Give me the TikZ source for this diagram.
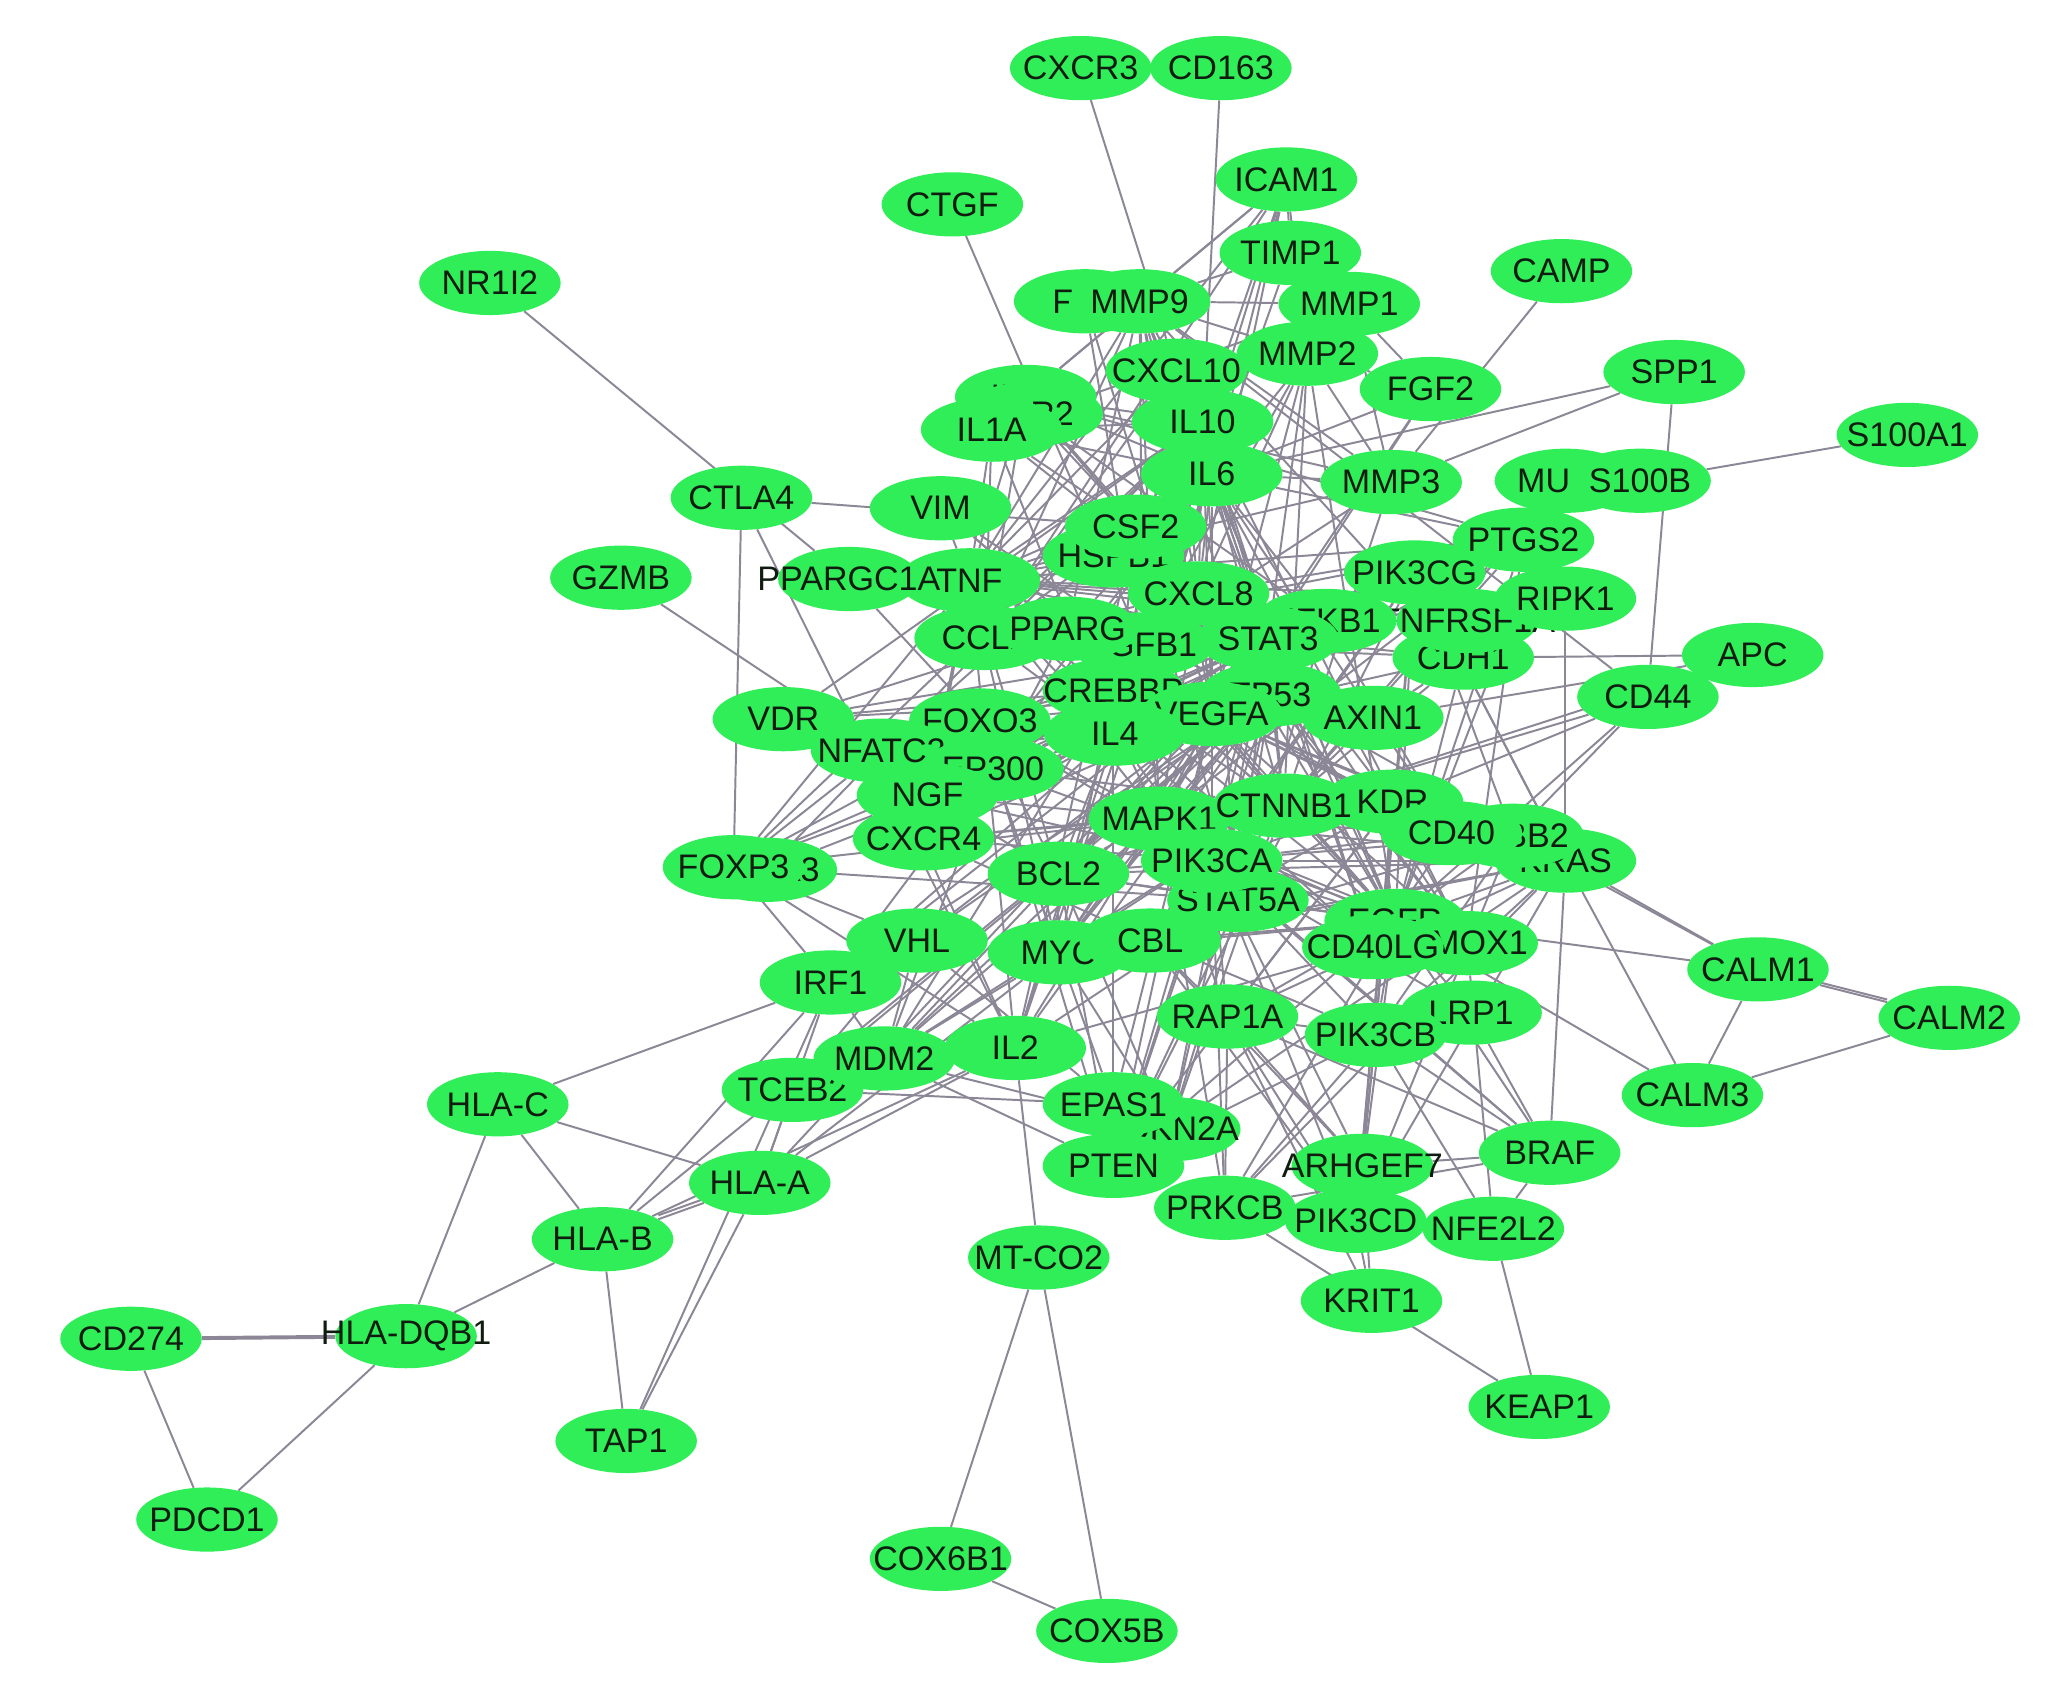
\documentclass[tikz,border=0pt]{standalone}
\usepackage{fontspec}
\setmainfont{Liberation Sans}
\usetikzlibrary{shapes.geometric,backgrounds}
\definecolor{gfill}{RGB}{48,238,88}
\definecolor{ecol}{RGB}{140,135,150}
\definecolor{tcol}{RGB}{15,28,15}
\tikzset{
  gn/.style={ellipse, fill=gfill, minimum width=108pt, minimum height=49pt, inner sep=0pt},
  lbl/.style={text=tcol, font=\fontsize{26}{26}\selectfont, inner sep=0pt},
  edge/.style={draw=ecol, line width=1.5pt},
  thickedge/.style={draw=ecol, line width=3pt}
}
\newcommand\gene[3]{\node[gn, label={[lbl]center:#3}] (#1) at (#2) {};}
\begin{document}
\begin{tikzpicture}[x=1pt,y=-1pt]
\useasboundingbox (0,0) rectangle (1568,1298);
% ---- nodes (draw order matters for occlusion) ----
\gene{CXCR3}{825,52}{CXCR3}
\gene{CD163}{932,52}{CD163}
\gene{ICAM1}{982,137}{ICAM1}
\gene{CTGF}{727,156}{CTGF}
\gene{TIMP1}{985,193}{TIMP1}
\gene{CAMP}{1192,207}{CAMP}
\gene{NR1I2}{374,216}{NR1I2}
\gene{FN1}{828,230}{FN1}
\gene{MMP9}{870,230}{MMP9}
\gene{MMP1}{1030,232}{MMP1}
\gene{CXCL10}{898,283}{CXCL10}
\gene{MMP2}{998,270}{MMP2}
\gene{FGF2}{1092,297}{FGF2}
\gene{SPP1}{1278,284}{SPP1}
\gene{S100A1}{1456,332}{S100A1}
\gene{IL1B}{783,303}{IL1B}
\gene{TLR2}{788,316}{TLR2}
\gene{IL1A}{757,328}{IL1A}
\gene{IL10}{918,322}{IL10}
\gene{IL6}{925,362}{IL6}
\gene{MMP3}{1062,368}{MMP3}
\gene{MUC1}{1195,367}{MUC1}
\gene{S100B}{1252,367}{S100B}
\gene{VIM}{718,388}{VIM}
\gene{CTLA4}{566,380}{CTLA4}
\gene{HSPB1}{850,424}{HSPB1}
\gene{CSF2}{867,402}{CSF2}
\gene{CDH1}{1117,502}{CDH1}
\gene{TNFRSF1A}{1120,474}{TNFRSF1A}
\gene{PTGS2}{1163,412}{PTGS2}
\gene{PIK3CG}{1080,437}{PIK3CG}
\gene{GZMB}{474,441}{GZMB}
\gene{TNF}{740,443}{TNF}
\gene{PPARGC1A}{648,442}{PPARGC1A}
\gene{CXCL8}{915,453}{CXCL8}
\gene{CCL2}{752,487}{CCL2}
\gene{TGFB1}{872,492}{TGFB1}
\gene{PPARG}{815,480}{PPARG}
\gene{NFKB1}{1012,474}{NFKB1}
\gene{STAT3}{968,488}{STAT3}
\gene{RIPK1}{1195,457}{RIPK1}
\gene{APC}{1338,500}{APC}
\gene{CD44}{1258,532}{CD44}
\gene{CREBBP}{850,527}{CREBBP}
\gene{TP53}{970,530}{TP53}
\gene{VEGFA}{925,545}{VEGFA}
\gene{AXIN1}{1048,548}{AXIN1}
\gene{FOXO3}{748,550}{FOXO3}
\gene{VDR}{598,549}{VDR}
\gene{NFATC2}{673,573}{NFATC2}
\gene{EP300}{758,587}{EP300}
\gene{IL4}{851,560}{IL4}
\gene{NGF}{708,607}{NGF}
\gene{CXCR4}{705,640}{CXCR4}
\gene{GATA3}{585,664}{GATA3}
\gene{FOXP3}{560,662}{FOXP3}
\gene{MAPK1}{885,625}{MAPK1}
\gene{KDR}{1063,612}{KDR}
\gene{CTNNB1}{980,615}{CTNNB1}
\gene{KRAS}{1195,657}{KRAS}
\gene{ERBB2}{1155,638}{ERBB2}
\gene{CD40}{1108,636}{CD40}
\gene{BCL2}{808,667}{BCL2}
\gene{STAT5A}{945,687}{STAT5A}
\gene{PIK3CA}{925,657}{PIK3CA}
\gene{EGFR}{1065,703}{EGFR}
\gene{HMOX1}{1120,720}{HMOX1}
\gene{CD40LG}{1048,723}{CD40LG}
\gene{VHL}{700,718}{VHL}
\gene{MYC}{808,727}{MYC}
\gene{CBL}{878,718}{CBL}
\gene{IRF1}{634,750}{IRF1}
\gene{RAP1A}{937,776}{RAP1A}
\gene{LRP1}{1123,773}{LRP1}
\gene{PIK3CB}{1050,790}{PIK3CB}
\gene{TCEB2}{605,832}{TCEB2}
\gene{MDM2}{675,808}{MDM2}
\gene{IL2}{775,800}{IL2}
\gene{CDKN2A}{893,862}{CDKN2A}
\gene{EPAS1}{850,843}{EPAS1}
\gene{HLA-C}{380,843}{HLA-C}
\gene{PTEN}{850,890}{PTEN}
\gene{HLA-A}{580,903}{HLA-A}
\gene{ARHGEF7}{1040,890}{ARHGEF7}
\gene{BRAF}{1183,880}{BRAF}
\gene{PRKCB}{935,922}{PRKCB}
\gene{PIK3CD}{1035,932}{PIK3CD}
\gene{NFE2L2}{1140,938}{NFE2L2}
\gene{HLA-B}{460,946}{HLA-B}
\gene{MT-CO2}{793,960}{MT-CO2}
\gene{KRIT1}{1047,993}{KRIT1}
\gene{CD274}{100,1022}{CD274}
\gene{HLA-DQB1}{310,1020}{HLA-DQB1}
\gene{KEAP1}{1175,1074}{KEAP1}
\gene{TAP1}{478,1100}{TAP1}
\gene{PDCD1}{158,1160}{PDCD1}
\gene{COX6B1}{718,1190}{COX6B1}
\gene{COX5B}{845,1245}{COX5B}
\gene{CALM1}{1342,740}{CALM1}
\gene{CALM2}{1488,777}{CALM2}
\gene{CALM3}{1292,836}{CALM3}
% ---- edges (behind the nodes) ----
\begin{pgfonlayer}{background}
\fill[white] (0,0) rectangle (1568,1298);
\foreach \a/\b in {%
 CXCR3/CXCL10, CD163/IL10, CTGF/TGFB1, NR1I2/PPARGC1A, CTLA4/CSF2, CTLA4/FOXP3,
 GZMB/NFATC2, PPARGC1A/FOXO3, PPARGC1A/PPARG, CAMP/MMP3, SPP1/CD44, SPP1/MMP3,
 S100B/S100A1, MUC1/EGFR, MUC1/CTNNB1,
 ICAM1/TIMP1, ICAM1/MMP9, ICAM1/IL6, ICAM1/TNF, ICAM1/CXCL8, ICAM1/MMP2,
 TIMP1/MMP9, TIMP1/MMP1, TIMP1/MMP2, MMP1/MMP2, MMP1/MMP3, MMP1/MMP9, MMP1/FGF2,
 MMP2/MMP9, MMP2/MMP3, MMP2/FGF2, MMP9/MMP3, MMP9/CXCL10, FN1/MMP9, FN1/TGFB1, FN1/VEGFA,
 FGF2/VEGFA, FGF2/IL6, FGF2/STAT3,
 IL6/TNF, IL6/IL10, IL6/IL1A, IL6/IL1B, IL6/CXCL8, IL6/CCL2, IL6/CSF2, IL6/IL4, IL6/IL2,
 IL6/STAT3, IL6/VEGFA, IL6/TP53, IL6/MMP9, IL6/MMP3, IL6/MMP1, IL6/TIMP1, IL6/CXCL10,
 IL6/PTGS2, IL6/TGFB1, IL6/NFKB1, IL6/HMOX1, IL6/BCL2, IL6/MYC, IL6/EGFR, IL6/SPP1,
 TNF/IL10, TNF/IL1A, TNF/IL1B, TNF/CXCL8, TNF/CCL2, TNF/CSF2, TNF/IL4, TNF/IL2,
 TNF/MMP9, TNF/MMP3, TNF/NFKB1, TNF/TGFB1, TNF/VEGFA, TNF/PTGS2, TNF/CXCL10,
 TNF/RIPK1, TNF/TNFRSF1A, TNF/PPARG, TNF/VIM, TNF/HSPB1,
 CXCL8/IL10, CXCL8/IL1A, CXCL8/IL1B, CXCL8/CCL2, CXCL8/CSF2, CXCL8/MMP9, CXCL8/MMP2,
 CXCL8/VEGFA, CXCL8/STAT3, CXCL8/NFKB1, CXCL8/PTGS2, CXCL8/CXCL10, CXCL8/CXCR4, CXCL8/TLR2,
 IL10/IL1A, IL10/CCL2, IL10/CSF2, IL10/IL4, IL10/IL2, IL10/STAT3, IL10/CXCL10, IL10/TGFB1,
 IL10/FOXP3, IL10/HMOX1, IL1A/IL1B, IL1B/TLR2, TLR2/NFKB1, IL1B/MMP3, IL1A/MMP1,
 STAT3/TP53, STAT3/VEGFA, STAT3/EGFR, STAT3/MYC, STAT3/BCL2, STAT3/CTNNB1, STAT3/MAPK1,
 STAT3/PIK3CA, STAT3/EP300, STAT3/CREBBP, STAT3/KDR, STAT3/STAT5A, STAT3/IL4, STAT3/IL2,
 STAT3/NFKB1, STAT3/CDKN2A, STAT3/PTEN, STAT3/MMP9, STAT3/HMOX1, STAT3/MMP2,
 TP53/MDM2, TP53/EP300, TP53/CREBBP, TP53/CDKN2A, TP53/PTEN, TP53/MYC, TP53/BCL2,
 TP53/MAPK1, TP53/CTNNB1, TP53/VEGFA, TP53/EGFR, TP53/AXIN1, TP53/NFKB1, TP53/KRAS,
 TP53/FOXO3, TP53/HMOX1, TP53/VHL,
 VEGFA/KDR, VEGFA/EGFR, VEGFA/MMP9, VEGFA/MMP2, VEGFA/HMOX1, VEGFA/PIK3CA, VEGFA/MAPK1,
 VEGFA/CTNNB1, VEGFA/PTGS2, VEGFA/EPAS1, VEGFA/VHL, VEGFA/CXCR4, VEGFA/TGFB1, VEGFA/NGF,
 CTNNB1/AXIN1, CTNNB1/APC, CTNNB1/CDH1, CTNNB1/EP300, CTNNB1/CREBBP, CTNNB1/MYC,
 CTNNB1/EGFR, CTNNB1/CD44, CTNNB1/KRAS, CTNNB1/PTEN, CTNNB1/VIM,
 MAPK1/EGFR, MAPK1/KRAS, MAPK1/BRAF, MAPK1/PIK3CA, MAPK1/MYC, MAPK1/ERBB2, MAPK1/RAP1A,
 MAPK1/PRKCB, MAPK1/BCL2, MAPK1/FOXO3, MAPK1/PPARG, MAPK1/NGF,
 PIK3CA/PIK3CB, PIK3CA/PIK3CD, PIK3CA/PIK3CG, PIK3CA/KRAS, PIK3CA/EGFR, PIK3CA/ERBB2,
 PIK3CA/PTEN, PIK3CA/CBL, PIK3CA/KDR, PIK3CA/CD40, PIK3CA/BRAF, PIK3CA/RAP1A,
 PIK3CB/PIK3CD, PIK3CB/PIK3CG, PIK3CB/KRAS, PIK3CB/PTEN, PIK3CB/EGFR, PIK3CB/CBL,
 PIK3CB/RAP1A, PIK3CB/ARHGEF7, PIK3CB/BRAF, PIK3CB/PRKCB, PIK3CB/NFE2L2,
 PIK3CD/PIK3CG, PIK3CD/KRAS, PIK3CD/CBL, PIK3CD/RAP1A, PIK3CD/PRKCB, PIK3CD/KRIT1,
 PIK3CD/ARHGEF7, PIK3CG/KRAS, PIK3CG/PTEN,
 EGFR/KRAS, EGFR/ERBB2, EGFR/CBL, EGFR/PTEN, EGFR/CDH1, EGFR/STAT5A, EGFR/PTGS2,
 EGFR/CALM1, EGFR/CALM3, EGFR/CD44,
 MYC/MDM2, MYC/CDKN2A, MYC/BCL2, MYC/EP300, MYC/CBL,
 VHL/EPAS1, VHL/TCEB2, VHL/MDM2, EPAS1/EP300, EPAS1/CREBBP, EPAS1/TCEB2,
 IRF1/HLA-A, IRF1/HLA-B, IRF1/HLA-C, IRF1/STAT3, IRF1/IL4, IRF1/MDM2, IRF1/TAP1,
 HLA-C/HLA-A, HLA-C/HLA-B, HLA-C/HLA-DQB1, HLA-A/HLA-B, HLA-A/TAP1, HLA-B/TAP1,
 HLA-A/TCEB2, HLA-A/IL2, HLA-A/MYC, HLA-B/IL2, HLA-B/HLA-DQB1,
 CD274/PDCD1, PDCD1/HLA-DQB1,
 CD40/CD40LG, CD40/TNF, CD40/NFKB1, CD40/IL6, CD40LG/IL4, CD40LG/IL2, CD40LG/IL10,
 FOXP3/IL2, FOXP3/NFATC2, FOXP3/TGFB1, FOXP3/STAT5A, FOXP3/NGF, FOXP3/VHL,
 FOXP3/STAT3, FOXP3/GATA3, FOXP3/IRF1,
 NFATC2/IL2, NFATC2/IL4, NFATC2/EP300, NFATC2/CSF2,
 IL2/IL4, IL2/STAT5A, IL2/CSF2, IL2/CTLA4, IL2/MDM2, IL4/CCL2, IL4/CSF2,
 GATA3/IL4, GATA3/IL10,
 VDR/EP300, VDR/CREBBP, VDR/PPARG, VDR/IL10, VDR/NFATC2,
 PPARG/EP300, PPARG/CREBBP, PPARG/NFKB1, PPARG/MMP9, PPARG/IL6, CCL2/MMP9, CCL2/STAT3,
 NGF/BCL2, NGF/CXCR4, NGF/PIK3CA, CXCR4/MAPK1, CXCR4/STAT3, CXCR4/CBL,
 BCL2/MDM2, BCL2/CDKN2A, BCL2/PTEN, MDM2/CDKN2A, MDM2/PTEN, TCEB2/MDM2,
 RAP1A/KRIT1, RAP1A/BRAF, RAP1A/PRKCB, RAP1A/ARHGEF7, RAP1A/CBL,
 ARHGEF7/BRAF, ARHGEF7/KRIT1, NFE2L2/KEAP1, NFE2L2/HMOX1, NFE2L2/PIK3CD, PRKCB/KEAP1,
 PRKCB/BRAF, PRKCB/EGFR, KRAS/BRAF, KRAS/CALM1, KRAS/CALM3, KRAS/RAP1A, ERBB2/CALM1,
 RIPK1/KRAS, RIPK1/NFKB1, TNFRSF1A/NFKB1, LRP1/BRAF, LRP1/PIK3CA, LRP1/EGFR,
 CD44/KDR, CD44/ERBB2, CD44/MMP9, APC/CDH1, APC/AXIN1, AXIN1/CDH1, CDH1/STAT3,
 CALM1/CALM2, CALM1/CALM3, CALM2/CALM3, STAT5A/CBL, CBL/ERBB2, KDR/PTEN,
 MT-CO2/IL2, MT-CO2/COX6B1, MT-CO2/COX5B, COX6B1/COX5B, PTEN/FOXO3, PTEN/CDKN2A,
 HSPB1/TP53, HSPB1/IL6, CSF2/STAT5A, VIM/CTNNB1, CREBBP/NFKB1, EP300/NFKB1, EP300/HMOX1,
 TNF/MAPK1, TNF/BCL2, TNF/TP53, TNF/EGFR, TNF/STAT3, TNF/MYC, IL4/STAT5A, IL4/CXCR4,
 IL10/STAT5A, CXCL8/MAPK1, CXCL8/EGFR, CXCL8/TP53, CXCL8/HMOX1, CSF2/STAT3, CSF2/IL1A,
 CSF2/IL1B, VEGFA/BCL2, VEGFA/CDH1, VEGFA/ERBB2, VEGFA/MYC, VEGFA/PTEN, VEGFA/KRAS,
 VEGFA/CD40, VEGFA/IL4, VEGFA/IL10, MMP9/EGFR, MMP9/CTNNB1, MMP9/MAPK1, MMP9/CDH1,
 MMP2/CTNNB1, MMP2/EGFR, MMP3/CTNNB1, MMP3/TGFB1, PTGS2/NFKB1, PTGS2/PPARG, PTGS2/STAT3,
 PTGS2/CTNNB1, PTGS2/MAPK1, PTGS2/HMOX1, NFKB1/BCL2, NFKB1/MYC, NFKB1/CDKN2A,
 EGFR/PIK3CG, EGFR/BRAF, EGFR/RAP1A, KRAS/PTEN, KRAS/CBL, KRAS/ERBB2, KRAS/PIK3CG,
 CTNNB1/CDKN2A, CTNNB1/BCL2, CTNNB1/MDM2, TP53/STAT5A, MYC/EGFR, MYC/KRAS,
 BCL2/PIK3CA, BCL2/EGFR, BCL2/KRAS, MDM2/EP300, MDM2/CREBBP, TGFB1/CTNNB1, TGFB1/EGFR,
 TGFB1/MAPK1, TGFB1/CDH1, TGFB1/PPARG, TGFB1/IL4, TGFB1/CCL2, TGFB1/VIM, TGFB1/MMP2,
 TGFB1/MMP9, IL1B/MMP9, IL1B/PTGS2, IL1B/CCL2, IL1B/IL10, IL1A/IL4, IL1A/CCL2,
 CCL2/CXCL10, CCL2/ICAM1, CXCL10/IL4, ICAM1/IL1B, ICAM1/IL10, ICAM1/IL4,
 FOXO3/STAT3, FOXO3/EP300, FOXO3/CREBBP, FOXO3/PIK3CA, FOXO3/BCL2, EP300/CREBBP,
 CREBBP/MYC, NGF/TNF, NGF/STAT3, CXCR4/PIK3CA, CXCR4/CTNNB1, CXCR4/IL6, CXCR4/TNF,
 PIK3CA/CTNNB1, PIK3CA/STAT5A, PIK3CB/ERBB2, PIK3CD/ERBB2, PIK3CD/EGFR, PIK3CG/CBL,
 PIK3CG/ERBB2, CBL/KDR, KDR/PIK3CB, KDR/PIK3CD, KDR/MAPK1, CD40LG/TNF, CD40LG/IL6,
 STAT5A/MYC, STAT5A/BCL2, RAP1A/KDR, PRKCB/PIK3CA, PRKCB/KRAS, ARHGEF7/PIK3CA,
 ARHGEF7/CBL, NFE2L2/BRAF, HMOX1/MAPK1, VDR/TP53, VDR/STAT3, FOXP3/CTNNB1, FOXP3/TNF,
 IRF1/TP53, IRF1/IL6, MDM2/MAPK1, TCEB2/TP53, HLA-B/TP53, HLA-A/STAT3, IL2/TP53}%
{\draw[edge] (\a) -- (\b);}
\draw[thickedge] (CD274) -- (HLA-DQB1);
\draw[edge,transform canvas={yshift=2pt}] (CALM1) -- (CALM2);
\draw[edge,transform canvas={yshift=3pt}] (HLA-A) -- (HLA-B);
\end{pgfonlayer}
\end{tikzpicture}
\end{document}
